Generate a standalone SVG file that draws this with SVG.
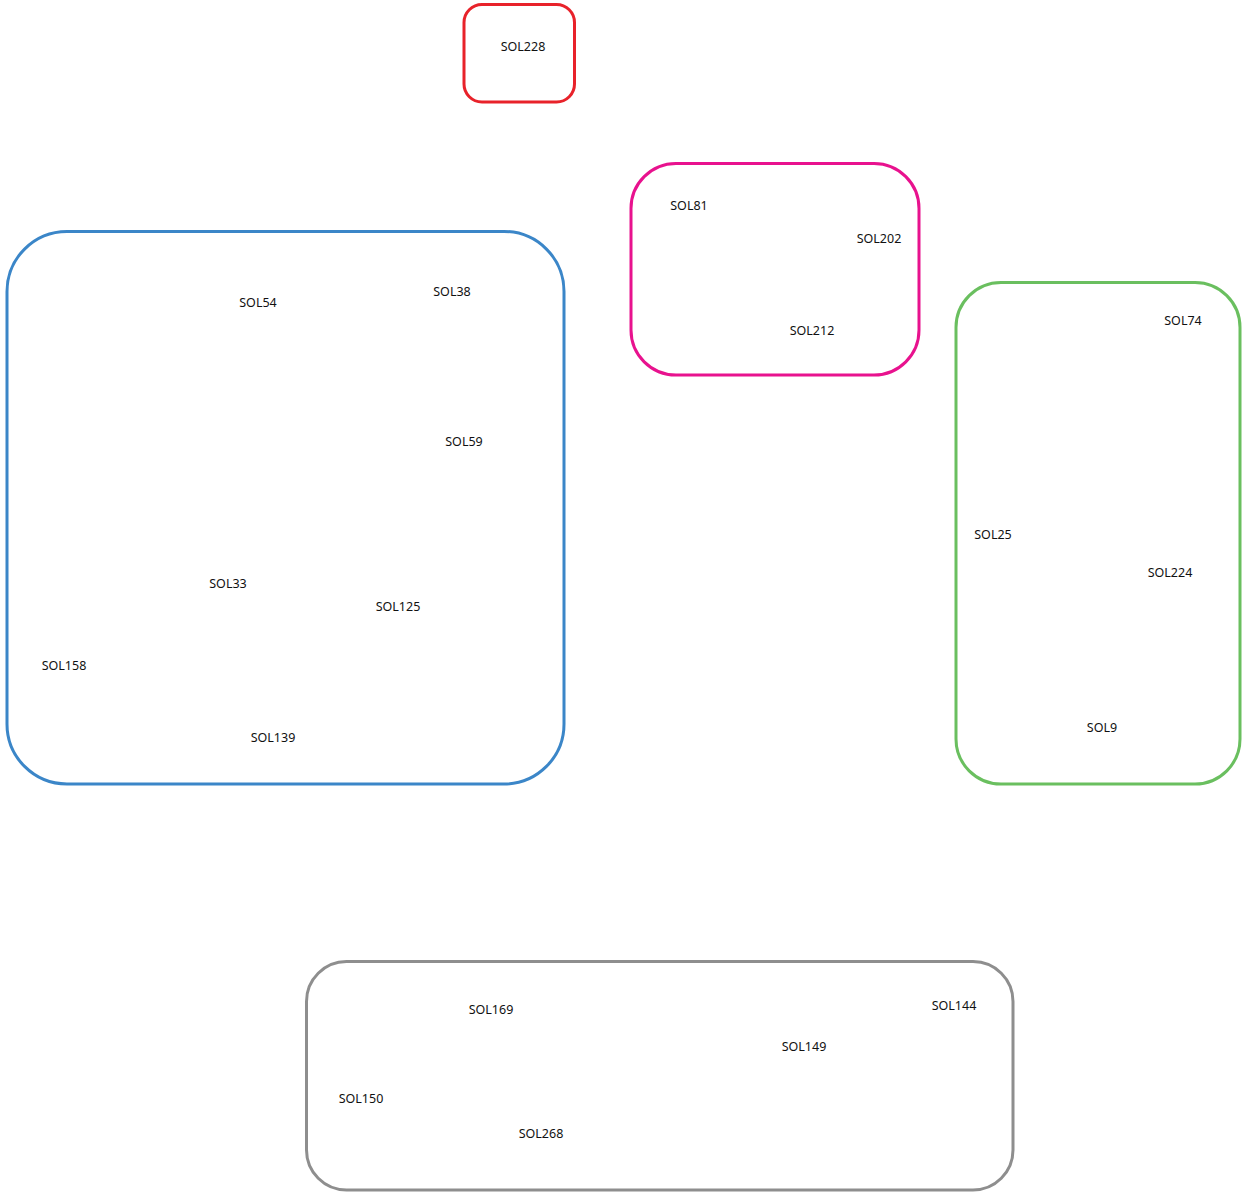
<svg xmlns="http://www.w3.org/2000/svg" width="1244" height="1192" viewBox="0 0 1244 1192">
  <style>
    .grp { fill: #ffffff; stroke-width: 3; }
    .lbl { font-family: "Noto Sans", "Liberation Sans", sans-serif; font-size: 12.5px; fill: #111111; text-anchor: middle; dominant-baseline: central; }
  </style>
  <rect width="1244" height="1192" fill="#ffffff"/>
  <g id="connectors"></g>

  <g id="cluster-red">
    <rect class="grp" x="464" y="4.5" width="110.5" height="97.5" rx="18" stroke="#e8222a"/>
    <text class="lbl" x="523" y="46">SOL228</text>
  </g>

  <g id="cluster-pink">
    <rect class="grp" x="631" y="163.5" width="288" height="211.5" rx="45" stroke="#e8128e"/>
    <text class="lbl" x="689" y="205">SOL81</text>
    <text class="lbl" x="879" y="238">SOL202</text>
    <text class="lbl" x="812" y="330">SOL212</text>
  </g>

  <g id="cluster-blue">
    <rect class="grp" x="7" y="231.5" width="557" height="552.5" rx="60" stroke="#3b86c8"/>
    <text class="lbl" x="258" y="302">SOL54</text>
    <text class="lbl" x="452" y="291">SOL38</text>
    <text class="lbl" x="464" y="441">SOL59</text>
    <text class="lbl" x="228" y="583">SOL33</text>
    <text class="lbl" x="398" y="606">SOL125</text>
    <text class="lbl" x="64" y="665">SOL158</text>
    <text class="lbl" x="273" y="737">SOL139</text>
  </g>

  <g id="cluster-green">
    <rect class="grp" x="956" y="282.5" width="284" height="501.5" rx="45" stroke="#6abf5f"/>
    <text class="lbl" x="1183" y="320">SOL74</text>
    <text class="lbl" x="993" y="534">SOL25</text>
    <text class="lbl" x="1170" y="572">SOL224</text>
    <text class="lbl" x="1102" y="727">SOL9</text>
  </g>

  <g id="cluster-gray">
    <rect class="grp" x="306.5" y="961.5" width="706.5" height="228.5" rx="40" stroke="#8e8e8e"/>
    <text class="lbl" x="491" y="1009">SOL169</text>
    <text class="lbl" x="954" y="1005">SOL144</text>
    <text class="lbl" x="804" y="1046">SOL149</text>
    <text class="lbl" x="361" y="1098">SOL150</text>
    <text class="lbl" x="541" y="1133">SOL268</text>
  </g>
</svg>
